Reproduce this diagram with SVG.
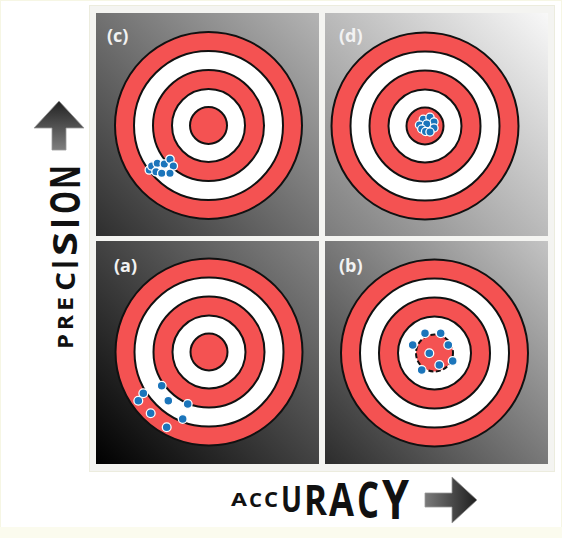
<svg xmlns="http://www.w3.org/2000/svg" width="562" height="538" viewBox="0 0 562 538">
<style>
.red{fill:#f45252;stroke:#111;stroke-width:2}
.wht{fill:#ffffff;stroke:#111;stroke-width:2}
.dot{fill:#1b75bb;stroke:#ffffff;stroke-width:1.3}
.lbl{font-family:"Open Sans","DejaVu Sans",sans-serif;font-weight:700;font-size:18px;fill:#f2f2f2}
.ax{font-family:"Open Sans","DejaVu Sans",sans-serif;font-weight:700;fill:#111}
.arrow{stroke:#9a9a9a;stroke-width:0.8}
</style>
<defs>
<linearGradient id="gc" x1="0" y1="1" x2="1" y2="0"><stop offset="0" stop-color="#2e2e2e"/><stop offset="1" stop-color="#b4b4b4"/></linearGradient>
<linearGradient id="gd" x1="0" y1="1" x2="1" y2="0"><stop offset="0" stop-color="#7c7c7c"/><stop offset="1" stop-color="#f8f8f8"/></linearGradient>
<linearGradient id="ga" x1="0" y1="1" x2="1" y2="0"><stop offset="0" stop-color="#000000"/><stop offset="1" stop-color="#858585"/></linearGradient>
<linearGradient id="gb" x1="0" y1="1" x2="1" y2="0"><stop offset="0" stop-color="#2c2c2c"/><stop offset="1" stop-color="#c4c4c4"/></linearGradient>
<linearGradient id="gup" x1="0" y1="0" x2="0" y2="1"><stop offset="0" stop-color="#222222"/><stop offset="1" stop-color="#7e7e7e"/></linearGradient>
<linearGradient id="grt" x1="0" y1="0" x2="1" y2="0"><stop offset="0" stop-color="#7a7a7a"/><stop offset="1" stop-color="#1e1e1e"/></linearGradient>
<g id="target">
<circle class="red" r="93.5"/>
<circle class="wht" r="74.5"/>
<circle class="red" r="55.5"/>
<circle class="wht" r="36.5"/>
</g>
</defs>
<rect x="0" y="0" width="562" height="538" fill="#ffffff"/>
<rect x="0.5" y="0.5" width="561" height="537" fill="none" stroke="#f6f6e4" stroke-width="1"/>
<rect x="89.5" y="5.5" width="465" height="466" fill="#f4f4f1" stroke="#ececde" stroke-width="1"/>
<rect x="0" y="527" width="562" height="11" fill="#fbfbee"/>

<g id="panel-c">
<rect x="96" y="13" width="223" height="223" fill="url(#gc)"/>
<use href="#target" x="208.5" y="125.5"/>
<circle class="red" cx="208.5" cy="125.5" r="18.5"/>
<text class="lbl" x="107" y="42">(c)</text>
<circle class="dot" cx="149.3" cy="170" r="4.2"/>
<circle class="dot" cx="151.7" cy="166" r="4.2"/>
<circle class="dot" cx="157.3" cy="163.3" r="4.2"/>
<circle class="dot" cx="164.3" cy="164" r="4.2"/>
<circle class="dot" cx="170" cy="159.3" r="4.2"/>
<circle class="dot" cx="173.3" cy="166" r="4.2"/>
<circle class="dot" cx="156" cy="171.7" r="4.2"/>
<circle class="dot" cx="161.7" cy="173.3" r="4.2"/>
<circle class="dot" cx="170" cy="173.3" r="4.2"/>
</g>

<g id="panel-d">
<rect x="325" y="13" width="223" height="223" fill="url(#gd)"/>
<use href="#target" x="425" y="126"/>
<circle class="red" cx="425" cy="126" r="18.5"/>
<text class="lbl" x="339" y="42">(d)</text>
<circle class="dot" cx="423.3" cy="119.3" r="4.1"/>
<circle class="dot" cx="430" cy="117.3" r="4.1"/>
<circle class="dot" cx="434" cy="122" r="4.1"/>
<circle class="dot" cx="419.5" cy="125" r="4.1"/>
<circle class="dot" cx="426.7" cy="124" r="4.1"/>
<circle class="dot" cx="434" cy="128" r="4.1"/>
<circle class="dot" cx="421.7" cy="129" r="4.1"/>
<circle class="dot" cx="425.5" cy="131.5" r="4.1"/>
<circle class="dot" cx="430" cy="132" r="4.1"/>
</g>

<g id="panel-a">
<rect x="96" y="241" width="223" height="223" fill="url(#ga)"/>
<use href="#target" x="209" y="352"/>
<circle class="red" cx="209" cy="352" r="18.5"/>
<text class="lbl" x="114" y="272">(a)</text>
<circle class="dot" cx="161.7" cy="385.7" r="4.4"/>
<circle class="dot" cx="143.3" cy="393.3" r="4.4"/>
<circle class="dot" cx="138.3" cy="400.7" r="4.4"/>
<circle class="dot" cx="168.3" cy="400.7" r="4.4"/>
<circle class="dot" cx="187.7" cy="404" r="4.4"/>
<circle class="dot" cx="150.7" cy="413.3" r="4.4"/>
<circle class="dot" cx="182.7" cy="419" r="4.4"/>
<circle class="dot" cx="166.7" cy="427.3" r="4.4"/>
</g>

<g id="panel-b">
<rect x="325" y="241" width="223" height="223" fill="url(#gb)"/>
<use href="#target" x="434.5" y="353"/>
<circle cx="434.5" cy="353" r="18.5" fill="#f45252" stroke="#111" stroke-width="2" stroke-dasharray="5 2.5"/>
<text class="lbl" x="339" y="272">(b)</text>
<circle class="dot" cx="425" cy="333.3" r="4.4"/>
<circle class="dot" cx="440.7" cy="333.3" r="4.4"/>
<circle class="dot" cx="412.7" cy="345" r="4.4"/>
<circle class="dot" cx="448.3" cy="345" r="4.4"/>
<circle class="dot" cx="429.3" cy="353.3" r="4.4"/>
<circle class="dot" cx="452.7" cy="361" r="4.4"/>
<circle class="dot" cx="439.3" cy="365" r="4.4"/>
<circle class="dot" cx="421.7" cy="370" r="4.4"/>
</g>

<g id="axis-precision">
<path class="arrow" d="M59,101 L84,128 L66,128 L66,150 L52,150 L52,128 L34,128 Z" fill="url(#gup)"/>
<text class="ax" transform="rotate(-90)"><tspan x="-349" y="72.5" font-size="21" textLength="15" lengthAdjust="spacingAndGlyphs">P</tspan><tspan x="-330" y="72.5" font-size="21" textLength="15" lengthAdjust="spacingAndGlyphs">R</tspan><tspan x="-311" y="73" font-size="22" textLength="14" lengthAdjust="spacingAndGlyphs">E</tspan><tspan x="-291" y="74.5" font-size="26.5" textLength="19" lengthAdjust="spacingAndGlyphs">C</tspan><tspan x="-269" y="77.5" font-size="35" textLength="9" lengthAdjust="spacingAndGlyphs">I</tspan><tspan x="-256" y="77" font-size="34" textLength="24" lengthAdjust="spacingAndGlyphs">S</tspan><tspan x="-229" y="79" font-size="39" textLength="11" lengthAdjust="spacingAndGlyphs">I</tspan><tspan x="-214" y="80" font-size="42" textLength="23" lengthAdjust="spacingAndGlyphs">O</tspan><tspan x="-189" y="80" font-size="42" textLength="24" lengthAdjust="spacingAndGlyphs">N</tspan></text>
</g>

<g id="axis-accuracy">
<text class="ax" transform="scale(0.75 1)"><tspan x="308" y="506.5" font-size="18" textLength="21.3" lengthAdjust="spacingAndGlyphs">A</tspan><tspan x="332" y="507" font-size="19.5" textLength="17.3" lengthAdjust="spacingAndGlyphs">C</tspan><tspan x="352" y="507.5" font-size="21" textLength="18.7" lengthAdjust="spacingAndGlyphs">C</tspan><tspan x="374.7" y="512.5" font-size="35" textLength="28" lengthAdjust="spacingAndGlyphs">U</tspan><tspan x="405.3" y="515" font-size="42" textLength="30.7" lengthAdjust="spacingAndGlyphs">R</tspan><tspan x="438.7" y="516.5" font-size="46" textLength="33.3" lengthAdjust="spacingAndGlyphs">A</tspan><tspan x="476" y="518" font-size="50" textLength="29.3" lengthAdjust="spacingAndGlyphs">C</tspan><tspan x="509.3" y="519" font-size="53" textLength="36" lengthAdjust="spacingAndGlyphs">Y</tspan></text>
<path class="arrow" d="M477,500 L452,477 L452,493 L425,493 L425,507 L452,507 L452,523 Z" fill="url(#grt)"/>
</g>
</svg>
